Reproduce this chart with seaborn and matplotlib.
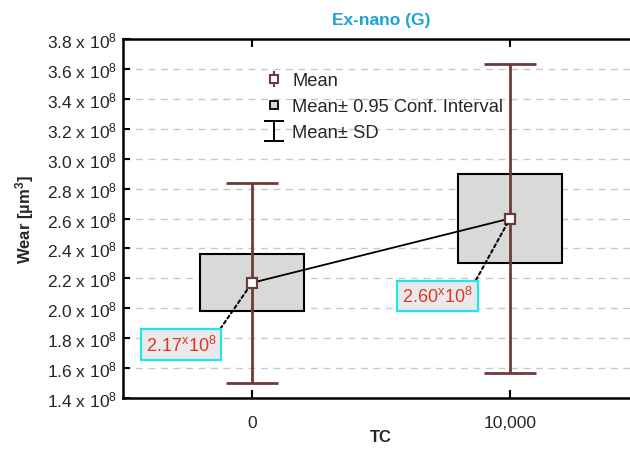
import matplotlib
matplotlib.use("Agg")
import matplotlib.pyplot as plt
from matplotlib.lines import Line2D
from matplotlib.path import Path
from matplotlib.legend_handler import HandlerTuple
from matplotlib.ticker import FixedLocator, FuncFormatter
import numpy as np
import seaborn as sns

# Wear volume per test condition (µm³)
tc_labels = ["0", "10,000"]
wear_mean = [2.17e8, 2.60e8]
ci95_low = [1.98e8, 2.30e8]
ci95_high = [2.36e8, 2.90e8]
wear_sd = [0.67e8, 1.03e8]
mean_labels = ["2.17", "2.60"]
y_ticks = [1.4e8, 1.6e8, 1.8e8, 2.0e8, 2.2e8, 2.4e8, 2.6e8, 2.8e8, 3.0e8, 3.2e8, 3.4e8, 3.6e8, 3.8e8]

sns.set_theme(style="white")
plt.rcParams["font.family"] = ["Liberation Sans", "DejaVu Sans"]
plt.rcParams["mathtext.fontset"] = "custom"
plt.rcParams["mathtext.rm"] = "Liberation Sans"
plt.rcParams["mathtext.it"] = "Liberation Sans:italic"
plt.rcParams["mathtext.bf"] = "Liberation Sans:bold"

BROWN = "#6e3b3b"
BOX_FILL = "#d8dad8"
TXT = "#262626"

fig = plt.figure(figsize=(6.3, 4.52), dpi=100)
ax = fig.add_axes([123 / 630, 1 - 399 / 452, 516 / 630, 359 / 452])
ax.set_axisbelow(True)

# 95 % confidence interval boxes (floating bars)
box_heights = [h - l for h, l in zip(ci95_high, ci95_low)]
sns.barplot(x=tc_labels, y=box_heights, bottom=ci95_low, width=0.4,
            color=BOX_FILL, saturation=1, edgecolor="black", linewidth=1.5,
            errorbar=None, zorder=2, ax=ax)

# mean ± SD whiskers
pos = np.arange(len(tc_labels))
ax.errorbar(pos, wear_mean, yerr=wear_sd, fmt="none", ecolor=BROWN,
            elinewidth=2, capsize=18.5, capthick=2, zorder=3)

# means joined by a line
sns.pointplot(x=tc_labels, y=wear_mean, errorbar=None, color="black",
              markers="s", linestyles="-", linewidth=1.3,
              markersize=6.5, markerfacecolor="white", markeredgecolor=BROWN,
              markeredgewidth=1.6, zorder=4, ax=ax)

ax.set_xlim(-0.5, 1.5)
ax.set_ylim(1.4e8, 3.8e8)

# value call-outs
label_pos = [(-0.275, 1.757e8), (0.719, 2.083e8)]
for i, (txt, (tx, ty)) in enumerate(zip(mean_labels, label_pos)):
    ax.annotate(txt + r"$\mathregular{^{x}}$10$^{8}$", xy=(pos[i], wear_mean[i]),
                xytext=(tx, ty), ha="center", va="center", fontsize=13,
                color="#e0342a", zorder=6,
                bbox=dict(boxstyle="square,pad=0.28", fc="#e9e9e9", ec="#22e6ee", lw=1.6),
                arrowprops=dict(arrowstyle="-", linestyle=(0, (1.5, 1.5)), color="black",
                                lw=1.5, relpos=(1, 1), shrinkA=0, shrinkB=5))

# axes styling
ax.yaxis.set_major_locator(FixedLocator(y_ticks))
ax.yaxis.set_major_formatter(FuncFormatter(lambda v, p: f"{v / 1e8:.1f}" + r" x 10$^{8}$"))
ax.grid(axis="y", color="#c8c8c8", linestyle=(0, (5, 4)), linewidth=1)
ax.grid(axis="x", visible=False)

for side in ["left", "bottom", "top"]:
    ax.spines[side].set_visible(True)
    ax.spines[side].set_color("black")
    ax.spines[side].set_linewidth(1.8)
ax.spines["right"].set_visible(False)

ax.tick_params(axis="y", direction="in", length=5, width=1.5, color="black",
               labelsize=12.5, labelcolor=TXT, pad=4, left=True)
ax.tick_params(axis="x", direction="in", length=6, width=1.5, color="black",
               labelsize=12.5, labelcolor=TXT, pad=12, bottom=True, top=True)

ax.set_xlabel("TC", fontsize=12, fontweight="bold", color=TXT)
ax.set_ylabel(r"Wear [µm$^{\mathbf{3}}$]", fontsize=12, fontweight="bold", color=TXT)
ax.xaxis.set_label_coords(0.5, -0.085)
ax.yaxis.set_label_coords(-0.168, 0.5)
ax.set_title("Ex-nano (G)", fontsize=12.5, fontweight="bold", color="#1aa3d8", pad=11)

# legend
sd_path = Path([(-1, 1), (1, 1), (0, 1), (0, -1), (-1, -1), (1, -1)],
               [Path.MOVETO, Path.LINETO, Path.MOVETO, Path.LINETO, Path.MOVETO, Path.LINETO])
h_mean = (Line2D([], [], marker="|", markersize=12, color=BROWN, markeredgewidth=1.5, linestyle="none"),
          Line2D([], [], marker="s", markersize=5.5, markerfacecolor="white",
                 markeredgecolor=BROWN, markeredgewidth=1.5, linestyle="none"))
h_ci = Line2D([], [], marker="s", markersize=6, markerfacecolor=BOX_FILL,
              markeredgecolor="black", markeredgewidth=1.3, linestyle="none")
h_sd = Line2D([], [], marker=sd_path, markersize=14.5, markerfacecolor="none",
              markeredgecolor="black", markeredgewidth=1.4, linestyle="none")
leg = ax.legend([h_mean, h_ci, h_sd],
                ["Mean", "Mean\u00b1 0.95 Conf. Interval", "Mean\u00b1 SD"],
                handler_map={tuple: HandlerTuple(ndivide=1)},
                loc="upper left", bbox_to_anchor=(264 / 630, 1 - 73 / 452),
                bbox_transform=fig.transFigure, frameon=False, fontsize=13.2,
                handlelength=1.1, handletextpad=0.45, labelspacing=0.5,
                borderpad=0, borderaxespad=0)
for t in leg.get_texts():
    t.set_color(TXT)

fig.savefig("out.png", dpi=100)
